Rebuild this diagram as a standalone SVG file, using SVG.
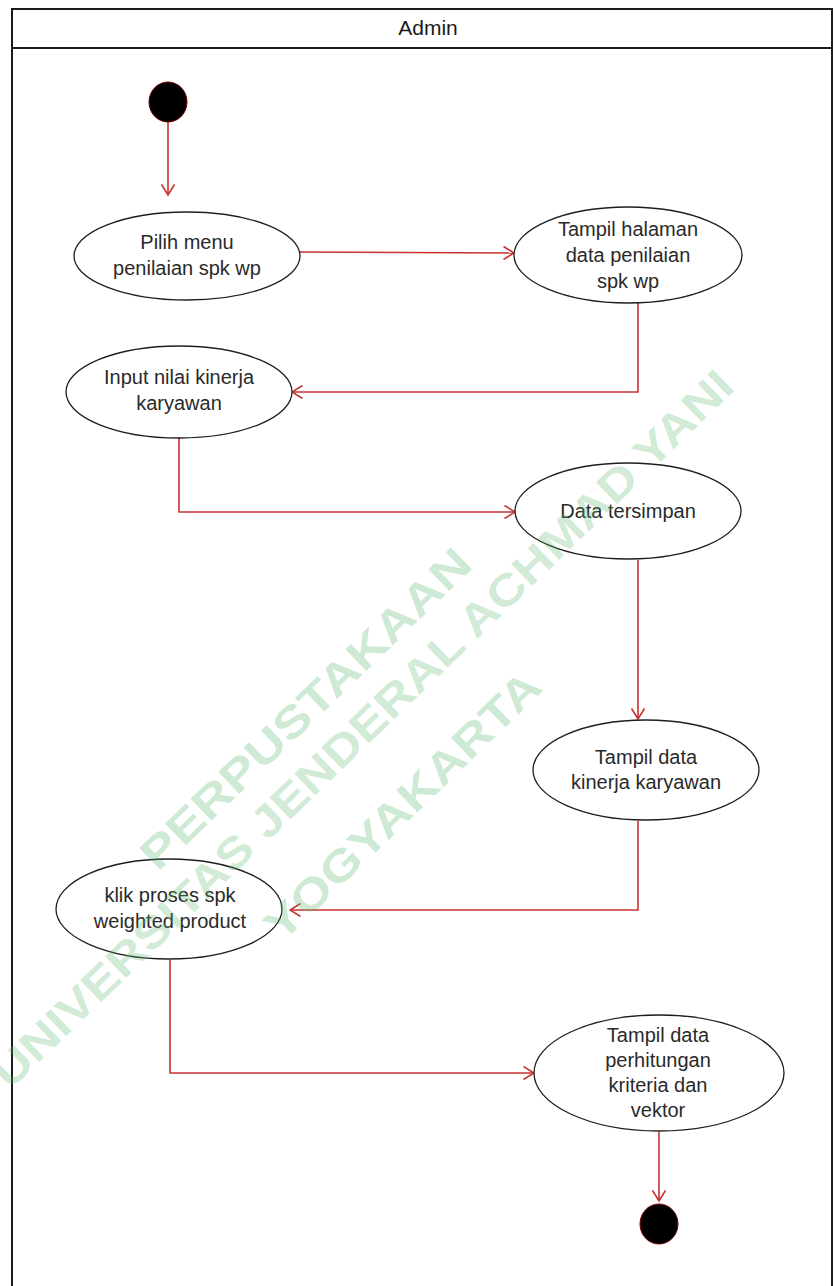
<svg xmlns="http://www.w3.org/2000/svg" width="834" height="1286" viewBox="0 0 834 1286">
<defs>
<style>
.frame{fill:none;stroke:#1a1a1a;stroke-width:2}
.act{fill:#fff;stroke:#1e1e1e;stroke-width:1.3}
.lbl{font-family:"Liberation Sans",Arial,sans-serif;font-size:20px;fill:#2a2a2a;text-anchor:middle}
.hdr{font-family:"Liberation Sans",Arial,sans-serif;font-size:21px;fill:#1a1a1a;text-anchor:middle}
.conn{fill:none;stroke:#c83232;stroke-width:1.6}
.dot{fill:#000;stroke:#7a0000;stroke-width:1}
.wm{font-family:"Liberation Sans",Arial,sans-serif;font-weight:bold;font-size:44px;fill:#5cb870;fill-opacity:0.3;text-anchor:middle}
</style>
<marker id="arr" viewBox="0 0 12 14" refX="11" refY="7" markerWidth="12" markerHeight="14" markerUnits="userSpaceOnUse" orient="auto">
<path d="M0.5,0.5 L11,7 L0.5,13.5" fill="none" stroke="#c83232" stroke-width="1.6"/>
</marker>
</defs>
<rect width="834" height="1286" fill="#fff"/>
<g id="swimlane">
<path class="frame" d="M12,1286 L12,9 L832,9 L832,1286"/>
<line class="frame" x1="12" y1="48" x2="832" y2="48"/>
<text class="hdr" x="428" y="35">Admin</text>
</g>
<g id="connectors">
<path class="conn" d="M168,122 L168,195" marker-end="url(#arr)"/>
<path class="conn" d="M300,252 L514,253" marker-end="url(#arr)"/>
<path class="conn" d="M638,303 L638,392 L292,392" marker-end="url(#arr)"/>
<path class="conn" d="M179,438 L179,512 L515,512" marker-end="url(#arr)"/>
<path class="conn" d="M638,560 L638,719" marker-end="url(#arr)"/>
<path class="conn" d="M638,821 L638,910 L290,910" marker-end="url(#arr)"/>
<path class="conn" d="M170,960 L170,1073 L534,1073" marker-end="url(#arr)"/>
<path class="conn" d="M659,1132 L659,1201" marker-end="url(#arr)"/>
</g>
<g id="start"><ellipse class="dot" cx="168" cy="102" rx="19" ry="20"/></g>
<g id="a1">
<ellipse class="act" cx="187" cy="256" rx="113" ry="44"/>
<text class="lbl" x="187" y="249">Pilih menu</text>
<text class="lbl" x="187" y="275">penilaian spk wp</text>
</g>
<g id="a2">
<ellipse class="act" cx="628" cy="255" rx="114" ry="48"/>
<text class="lbl" x="628" y="236">Tampil halaman</text>
<text class="lbl" x="628" y="262">data penilaian</text>
<text class="lbl" x="628" y="288">spk wp</text>
</g>
<g id="a3">
<ellipse class="act" cx="179" cy="392" rx="113" ry="46"/>
<text class="lbl" x="179" y="384">Input nilai kinerja</text>
<text class="lbl" x="179" y="410">karyawan</text>
</g>
<g id="a4">
<ellipse class="act" cx="628" cy="511" rx="113" ry="48"/>
<text class="lbl" x="628" y="518">Data tersimpan</text>
</g>
<g id="a5">
<ellipse class="act" cx="646" cy="770" rx="113" ry="50"/>
<text class="lbl" x="646" y="764">Tampil data</text>
<text class="lbl" x="646" y="789">kinerja karyawan</text>
</g>
<g id="a6">
<ellipse class="act" cx="169" cy="909" rx="113" ry="50"/>
<text class="lbl" x="170" y="902">klik proses spk</text>
<text class="lbl" x="170" y="928">weighted product</text>
</g>
<g id="a7">
<ellipse class="act" cx="659" cy="1073" rx="125" ry="58"/>
<text class="lbl" x="658" y="1042">Tampil data</text>
<text class="lbl" x="658" y="1067">perhitungan</text>
<text class="lbl" x="658" y="1092">kriteria dan</text>
<text class="lbl" x="658" y="1117">vektor</text>
</g>
<g id="end"><ellipse class="dot" cx="659" cy="1224" rx="19" ry="20"/></g>
<g id="watermark">
<text class="wm" transform="translate(362,728) rotate(-44)" x="0" y="16" textLength="1010" lengthAdjust="spacingAndGlyphs">UNIVERSITAS JENDERAL ACHMAD YANI</text>
<text class="wm" transform="translate(305,708) rotate(-44)" x="0" y="16" textLength="440" lengthAdjust="spacingAndGlyphs">PERPUSTAKAAN</text>
<text class="wm" transform="translate(402,805) rotate(-44)" x="0" y="16" textLength="365" lengthAdjust="spacingAndGlyphs">YOGYAKARTA</text>
</g>
</svg>
